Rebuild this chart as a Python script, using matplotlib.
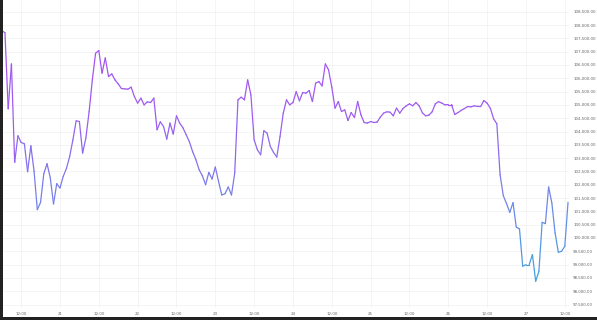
import matplotlib
matplotlib.use("Agg")
import matplotlib.pyplot as plt
import matplotlib.dates as mdates
from matplotlib.collections import LineCollection
from matplotlib.colors import LinearSegmentedColormap, Normalize
from matplotlib.patches import Rectangle
from matplotlib.ticker import FuncFormatter
import numpy as np
import pandas as pd

start_time = "2025-06-20 06:00"
prices = [
    107787, 107712, 104851, 106539, 102838, 103839, 103588, 103539, 102489, 103464,
    102500, 101064, 101338, 102414, 102789, 102264, 101278, 102039, 101878, 102313,
    102613, 103063, 103689, 104401, 104375, 103190, 103753, 104739, 105939, 106940,
    107038, 106190, 106764, 106063, 106164, 105939, 105789, 105613, 105601, 105590,
    105665, 105313, 105065, 105253, 105001, 105114, 105088, 105253, 104064, 104364,
    104188, 103715, 104315, 103903, 104589, 104315, 104139, 103876, 103614, 103239,
    102939, 102564, 102339, 102001, 102463, 102215, 102665, 102125, 101615, 101664,
    101915, 101615, 102440, 105189, 105290, 105189, 105939, 105376, 103689, 103314,
    103126, 104026, 103940, 103438, 103213, 103040, 103813, 104690, 105189, 105001,
    105088, 105500, 105151, 105463, 105440, 105538, 105125, 105815, 105875, 105714,
    106539, 106314, 105665, 104878, 105125, 104750, 104814, 104413, 104713, 104525,
    105125, 104626, 104338, 104315, 104375, 104338, 104351, 104540, 104690, 104739,
    104727, 104589, 104878, 104690, 104863, 104964, 105039, 104964, 105088, 104964,
    104701, 104589, 104615, 104739, 105039, 105125, 105065, 105001, 105013, 105013,
    104638, 104713, 104795, 104863, 104938, 104926, 104964, 104945, 104938, 105163,
    105065, 104870, 104476, 104289, 102376, 101589, 101289, 100963, 101326, 100408,
    100340, 98938, 99001, 99001, 99376, 98375, 98750, 100588, 100539, 101915,
    101315, 100190, 99463, 99500, 99688, 101338,
]
y_ticks = list(range(97500, 109000, 500))
x_view = ("2025-06-20 05:28", "2025-06-27 13:18")
y_view = (97370, 108940)

times = pd.date_range(start_time, periods=len(prices), freq="h")

W, H = 597, 320
fig = plt.figure(figsize=(W / 100, H / 100), dpi=100)
fig.patch.set_facecolor("white")
ax = fig.add_axes([0.0, (H - 308) / H, 569 / W, 308 / H])
ax.set_facecolor("white")

xn = mdates.date2num(times)
yv = np.array(prices, dtype=float)
pts = np.column_stack([xn, yv]).reshape(-1, 1, 2)
segs = np.concatenate([pts[:-1], pts[1:]], axis=1)
cmap = LinearSegmentedColormap.from_list("pb", ["#42a5de", "#7482ea", "#9d5cf0", "#a652f2"])
norm = Normalize(vmin=98600, vmax=107500)
mids = (yv[:-1] + yv[1:]) / 2
lc = LineCollection(segs, colors=cmap(norm(mids)), linewidths=0.9,
                    capstyle="round", joinstyle="round", zorder=3)
ax.add_collection(lc)

ax.set_xlim(pd.Timestamp(x_view[0]), pd.Timestamp(x_view[1]))
ax.set_ylim(*y_view)

ax.set_yticks(y_ticks)
ax.yaxis.tick_right()
ax.yaxis.set_major_formatter(FuncFormatter(lambda v, p: f"{v:,.2f}"))

ax.xaxis.set_major_locator(mdates.HourLocator(byhour=[0, 12]))
def xfmt(v, p):
    d = mdates.num2date(v)
    return "12:00" if d.hour == 12 else f"{d.day}"
ax.xaxis.set_major_formatter(FuncFormatter(xfmt))

ax.tick_params(axis="both", length=0, labelsize=2.9, colors="#666666")
ax.tick_params(axis="y", pad=3)
ax.tick_params(axis="x", pad=3)
for lab in ax.get_yticklabels():
    lab.set_horizontalalignment("left")

ax.grid(True, color="#f0f0f0", linewidth=0.5, zorder=0)
for s in ax.spines.values():
    s.set_visible(False)

fig.patches.append(Rectangle((0, 0), 2.7 / W, 1, transform=fig.transFigure,
                             facecolor="#222222", edgecolor="none", zorder=10))
fig.patches.append(Rectangle((0, 0), 1, 3 / H, transform=fig.transFigure,
                             facecolor="#222222", edgecolor="none", zorder=10))

fig.savefig("out.png", dpi=100, facecolor="white")
